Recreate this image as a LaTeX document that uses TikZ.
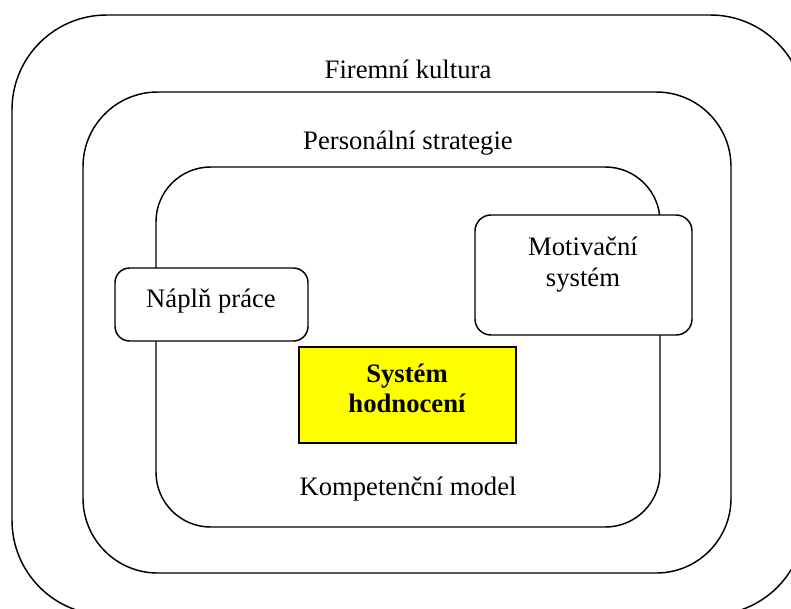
\documentclass[tikz,border=0pt]{standalone}
\usepackage{fontspec}
\setmainfont{Liberation Serif}
\definecolor{markyellow}{RGB}{255,255,0}
\begin{document}
\begin{tikzpicture}[x=0.75pt, y=-0.75pt, line width=1.1pt,
    every node/.style={font=\fontsize{20}{23}\selectfont, inner sep=0pt},
    card/.style={draw, fill=white, rounded corners=11pt}]
    \useasboundingbox (0,0) rectangle (791,608);
    \clip (0,0) rectangle (791,608);
    % nested frames
    \draw [rounded corners=71pt] (12,15) rectangle (805,615);
    \node (kultura) [anchor=base] at (408,78) {Firemní kultura};
    \draw [rounded corners=56pt] (83,92) rectangle (731,573);
    \node (strategie) [anchor=base] at (408,149) {Personální strategie};
    \draw [rounded corners=41pt] (156,167) rectangle (660,527);
    \node (model) [anchor=base] at (408,495) {Kompetenční model};
    % boxes on the inner frame
    \node (napln) [card, minimum width=144.75pt, minimum height=54.75pt] at (211.5,304.5) {};
    \node (napln-text) [anchor=base] at (211,307) {Náplň práce};
    \node (motivace) [card, rounded corners=12pt, minimum width=162.75pt, minimum height=90pt] at (583.5,275) {};
    \node (motivace-text) [anchor=base, align=center] at (583,286) {Motivační\\systém};
    \node (hodnoceni) [draw, fill=markyellow, minimum width=162.75pt, minimum height=72pt] at (407.5,395) {};
    \node (hodnoceni-text) [anchor=base, align=center, font=\fontsize{20}{22}\selectfont\bfseries] at (407,412) {Systém\\hodnocení};
\end{tikzpicture}
\end{document}
